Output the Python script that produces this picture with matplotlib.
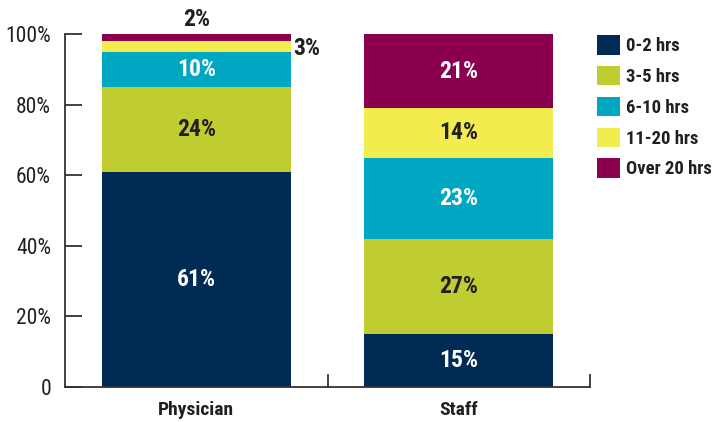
import matplotlib
matplotlib.use("Agg")
import matplotlib.pyplot as plt
from matplotlib import font_manager
from matplotlib.patches import Patch
import numpy as np

# pick a condensed face if one is installed, else a plain sans at a smaller size
condensed = None
for name in ["Liberation Sans Narrow", "DejaVu Sans Condensed", "Roboto Condensed", "Open Sans Condensed"]:
    try:
        font_manager.findfont(name, fallback_to_default=False)
        condensed = name
        break
    except ValueError:
        pass
if condensed:
    plt.rcParams['font.family'] = [condensed, 'DejaVu Sans']
    scale = 1.0
else:
    plt.rcParams['font.family'] = ['Roboto', 'DejaVu Sans']
    plt.rcParams['font.stretch'] = 'condensed'
    scale = 0.85

groups = ["Physician", "Staff"]
series = ["0-2 hrs", "3-5 hrs", "6-10 hrs", "11-20 hrs", "Over 20 hrs"]
physician = [61, 24, 10, 3, 2]
staff = [15, 27, 23, 14, 21]
colors = ["#002B55", "#BFCD31", "#00A7C2", "#F3EC4F", "#8A004E"]
label_colors = ["white", "#231F20", "white", "#231F20", "white"]
dark = "#231F20"

values = np.array([physician, staff]).T  # rows = series
x = np.arange(len(groups))
fs = 15.5 * scale        # axis tick labels
fs_val = 17 * scale      # value labels on the bars
fs_leg = 13.4 * scale

fig = plt.figure(figsize=(7.24, 4.22), dpi=100)
ax = fig.add_axes([65 / 724, 35 / 422, 525 / 724, 353 / 422])

bottom = np.zeros(len(groups))
for i, name in enumerate(series):
    ax.bar(x, values[i], bottom=bottom, width=0.72, color=colors[i], label=name)
    for j in range(len(groups)):
        v = values[i][j]
        mid = bottom[j] + v / 2
        if v >= 5:
            ax.text(x[j], mid, f"{v}%", ha="center", va="center", fontsize=fs_val,
                    fontweight="bold", color=label_colors[i])
    bottom += values[i]

# small physician segments labelled outside the bar
ax.text(x[0] + 0.36 + 0.01, physician[0] + physician[1] + physician[2] + physician[3] / 2 - 0.7,
        f"{physician[3]}%", ha="left", va="center", fontsize=fs_val, fontweight="bold", color=dark)
ax.text(x[0], 100.8, f"{physician[4]}%", ha="center", va="bottom", fontsize=fs_val,
        fontweight="bold", color=dark)

ax.set_xlim(-0.5, 1.5)
ax.set_ylim(0, 100)
ax.set_yticks([0, 20, 40, 60, 80, 100])
ax.set_yticklabels(["0", "20%", "40%", "60%", "80%", "100%"], fontsize=fs, color=dark)
ax.set_xticks(x)
ax.set_xticklabels(groups, fontsize=14 * scale, fontweight="bold", color=dark)
ax.tick_params(axis="x", length=0, pad=10)
ax.tick_params(axis="y", direction="in", length=12, width=1.3, color="#333333", pad=10)
for xb in [0.5, 1.5]:
    ax.plot([xb, xb], [0, 3.4], color="#333333", lw=1.3, clip_on=False)
for s in ["top", "right"]:
    ax.spines[s].set_visible(False)
for s in ["left", "bottom"]:
    ax.spines[s].set_linewidth(1.3)
    ax.spines[s].set_color("#333333")

handles = [Patch(facecolor=c, edgecolor="none") for c in colors]
fig.legend(handles, series, loc="upper left", bbox_to_anchor=(597 / 724, 1 - 35 / 422),
           frameon=False, handlelength=1.24, handleheight=1.24, handletextpad=0.3,
           labelspacing=0.58, prop={"size": fs_leg, "weight": "bold"}, labelcolor=dark,
           borderaxespad=0, borderpad=0)

fig.savefig("out.png", dpi=100)
